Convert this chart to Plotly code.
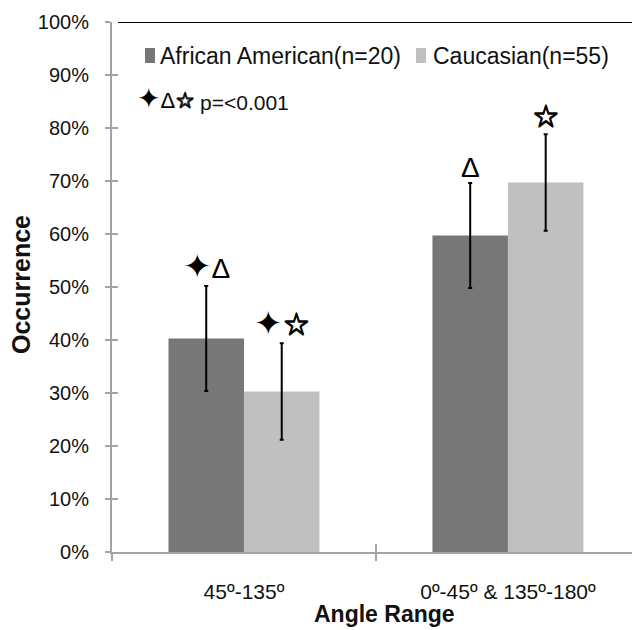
import plotly.graph_objects as go

# ---- data ----
categories = ["45º-135º", "0º-45º & 135º-180º"]
series_names = ["African American(n=20)", "Caucasian(n=55)"]
african_american = [40.3, 59.7]
african_american_err = [9.9, 9.9]
caucasian = [30.3, 69.7]
caucasian_err = [9.1, 9.1]
aa_marks = [["✦", "Δ"], ["Δ"]]
ca_marks = [["✦", "☆"], ["☆"]]
sig_label = "p=<0.001"
sig_symbols = ["✦", "Δ", "☆"]
y_ticks = list(range(0, 101, 10))
y_ticktext = [f"{v}%" for v in y_ticks]

# ---- styling ----
DARK = "#777777"
LIGHT = "#c0c0c0"
AXIS = "#a3a3a3"
TXT = "#111111"
W, H = 632, 630
ML, MR, MT, MB = 112, 0, 22, 78
PW, PH = W - ML - MR, H - MT - MB
BARGAP = 0.428
BW = (1 - BARGAP) / 2

OUTLINE = "0.6px 0 0 black, -0.6px 0 0 black, 0 0.6px 0 black, 0 -0.6px 0 black"
GLYPH_FONT = {"✦": "DejaVu Sans", "Δ": "Liberation Sans", "☆": "DejaVu Sans"}
GLYPH_SIZE = {"✦": 34, "Δ": 28, "☆": 31}
GLYPH_EXTRA = {"✦": "", "Δ": "", "☆": f";text-shadow:{OUTLINE}"}


def px_x(px):
    return (px - ML) / PW


def px_y(py):
    return (H - MB - py) / PH


def glyph_text(marks, sizes=None):
    sizes = sizes or {}
    parts = []
    for m in marks:
        s = sizes.get(m, GLYPH_SIZE[m])
        parts.append(f'<span style="font-family:{GLYPH_FONT[m]};font-size:{s}px{GLYPH_EXTRA[m]}">{m}</span>')
    return "".join(parts)


fig = go.Figure()
fig.add_trace(go.Bar(
    x=categories, y=african_american, name=series_names[0],
    marker=dict(color=DARK, line=dict(width=0)),
    error_y=dict(type="data", array=african_american_err, color="black", thickness=2, width=2),
))
fig.add_trace(go.Bar(
    x=categories, y=caucasian, name=series_names[1],
    marker=dict(color=LIGHT, line=dict(width=0)),
    error_y=dict(type="data", array=caucasian_err, color="black", thickness=2, width=2),
))
fig.add_trace(go.Scatter(x=[None], y=[None], xaxis="x2", yaxis="y2", showlegend=False))
fig.add_trace(go.Scatter(x=[None], y=[None], xaxis="x3", yaxis="y", showlegend=False))

fig.update_layout(
    width=W, height=H,
    margin=dict(l=ML, r=MR, t=MT, b=MB),
    paper_bgcolor="white", plot_bgcolor="white",
    barmode="group", bargap=BARGAP, bargroupgap=0,
    showlegend=False,
    font=dict(family="Liberation Sans, Arial, sans-serif", color=TXT),
    xaxis=dict(
        range=[-0.5, 1.47], tickvals=[0, 1], ticktext=categories,
        ticks="", showline=True, linecolor=AXIS, linewidth=2,
        showgrid=False, zeroline=False,
        tickfont=dict(size=21, color=TXT), ticklabelstandoff=20,
    ),
    xaxis2=dict(
        overlaying="x", range=[-0.5, 1.47], tickmode="array", tickvals=[-0.5, 0.5, 1.5],
        ticks="outside", ticklen=8, tickwidth=2, tickcolor=AXIS, showticklabels=False,
        showline=False, showgrid=False, zeroline=False, side="bottom", anchor="y",
    ),
    xaxis3=dict(
        overlaying="x", range=[-0.5, 1.47], tickmode="array", tickvals=[0.5],
        ticks="inside", ticklen=8, tickwidth=2, tickcolor=AXIS, showticklabels=False,
        showline=False, showgrid=False, zeroline=False, side="bottom", anchor="y",
    ),
    yaxis=dict(
        range=[0, 100], tickmode="array", tickvals=y_ticks, ticktext=y_ticktext,
        ticks="outside", ticklen=5, tickwidth=2, tickcolor=AXIS,
        showline=True, linecolor=AXIS, linewidth=2, showgrid=False, zeroline=False,
        tickfont=dict(size=20, color=TXT), ticklabelstandoff=12,
    ),
    yaxis2=dict(
        overlaying="y", range=[0, 100], tickmode="array", tickvals=y_ticks,
        ticks="inside", ticklen=6, tickwidth=2, tickcolor=AXIS, showticklabels=False,
        showline=False, showgrid=False, zeroline=False, anchor="x",
    ),
)

fig.add_shape(type="line", xref="paper", yref="y", x0=px_x(106), x1=px_x(112), y0=0, y1=0,
              line=dict(color=AXIS, width=2))
fig.add_shape(type="line", xref="paper", yref="y", x0=px_x(118), x1=1, y0=100, y1=100,
              line=dict(color="black", width=2))

# significance marks above the bars
for i in range(len(categories)):
    for xc, ytop, marks in ((i - BW / 2, african_american[i] + african_american_err[i], aa_marks[i]),
                            (i + BW / 2, caucasian[i] + caucasian_err[i], ca_marks[i])):
        fig.add_annotation(x=xc, y=ytop, xref="x", yref="y", text=glyph_text(marks),
                           showarrow=False, xanchor="center", yanchor="bottom", yshift=-1,
                           borderpad=0, font=dict(color="black"))

# manual legend
legend_items = [(series_names[0], DARK, 145, 158), (series_names[1], LIGHT, 416, 431)]
for name, col, sx, tx in legend_items:
    fig.add_shape(type="rect", xref="paper", yref="paper",
                  x0=px_x(sx), x1=px_x(sx + 10), y0=px_y(63), y1=px_y(48),
                  fillcolor=col, line=dict(width=0))
    fig.add_annotation(xref="paper", yref="paper", x=px_x(tx), y=px_y(56),
                       text=name, showarrow=False, xanchor="left", yanchor="middle",
                       font=dict(size=23, color=TXT))

fig.add_annotation(xref="paper", yref="paper", x=px_x(136), y=px_y(99),
                   text=glyph_text(sig_symbols, {"✦": 28, "Δ": 22, "☆": 22}),
                   showarrow=False, xanchor="left", yanchor="middle", borderpad=0,
                   font=dict(color="black"))
fig.add_annotation(xref="paper", yref="paper", x=px_x(198), y=px_y(103),
                   text=sig_label, showarrow=False, xanchor="left", yanchor="middle",
                   font=dict(size=21, color=TXT))

# axis titles
fig.add_annotation(xref="paper", yref="paper", x=px_x(384), y=px_y(614),
                   text="<b>Angle Range</b>", showarrow=False, xanchor="center", yanchor="middle",
                   font=dict(size=23, color=TXT))
fig.add_annotation(xref="paper", yref="paper", x=px_x(21), y=px_y(285),
                   text="<b>Occurrence</b>", showarrow=False, xanchor="center", yanchor="middle",
                   textangle=-90, font=dict(size=25, color=TXT))

fig.write_html("out.html")
